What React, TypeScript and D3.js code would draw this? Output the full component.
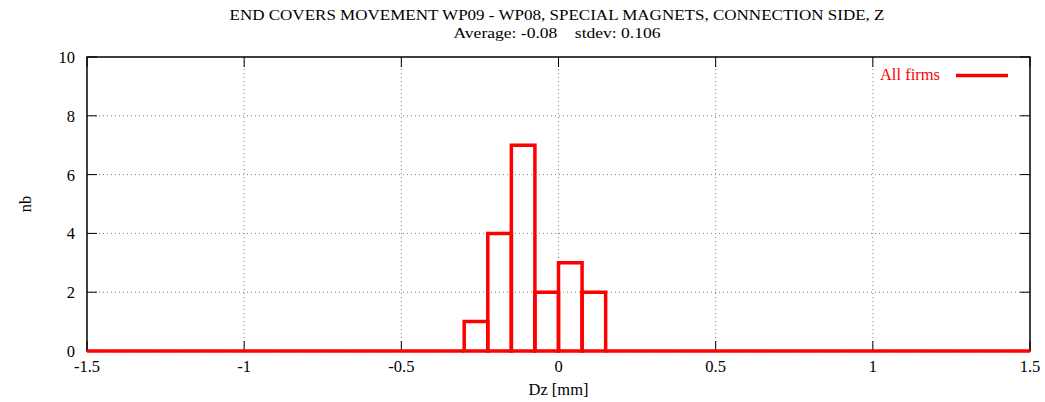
import React from "react";
import * as d3 from "d3";

const titleLines = [
  "END COVERS MOVEMENT WP09 - WP08, SPECIAL MAGNETS, CONNECTION SIDE, Z",
  "Average: -0.08    stdev: 0.106",
];
const xTicks = [-1.5, -1, -0.5, 0, 0.5, 1, 1.5];
const xTickLabels = ["-1.5", "-1", "-0.5", "0", "0.5", "1", "1.5"];
const yTicks = [0, 2, 4, 6, 8, 10];
const binStart = -1.5;
const binWidth = 0.075;
// counts per bin, from -1.5 to 1.5 in 0.075 steps (40 bins)
const counts = [
  0, 0, 0, 0, 0, 0, 0, 0, 0, 0,
  0, 0, 0, 0, 0, 0, 1, 4, 7, 2,
  3, 2, 0, 0, 0, 0, 0, 0, 0, 0,
  0, 0, 0, 0, 0, 0, 0, 0, 0, 0,
];
const seriesName = "All firms";

export default function App() {
  const W = 1045, H = 402;
  const L = 87, R = 1030, T = 57, B = 351;
  const x = d3.scaleLinear().domain([-1.5, 1.5]).range([L, R]);
  const y = d3.scaleLinear().domain([0, 10]).range([B, T]);
  const font = "'Liberation Serif', 'Times New Roman', serif";
  const red = "#ff0000";
  const tick = 10;
  const fs = 16.5;

  return (
    <svg width={W} height={H} style={{ position: "absolute", left: 0, top: 0 }} fontFamily={font}>
      <rect x={0} y={0} width={W} height={H} fill="#fff" />
      {/* grid */}
      {xTicks.slice(1, -1).map((t) => (
        <line key={"gx" + t} x1={x(t)} x2={x(t)} y1={T} y2={B} stroke="#808080" strokeWidth={1} strokeDasharray="1,3" />
      ))}
      {yTicks.slice(1, -1).map((t) => (
        <line key={"gy" + t} x1={L} x2={R} y1={y(t)} y2={y(t)} stroke="#808080" strokeWidth={1} strokeDasharray="1,3" />
      ))}
      {/* ticks */}
      {xTicks.map((t) => (
        <g key={"tx" + t}>
          <line x1={x(t)} x2={x(t)} y1={B} y2={B - tick} stroke="#000" />
          <line x1={x(t)} x2={x(t)} y1={T} y2={T + tick} stroke="#000" />
        </g>
      ))}
      {yTicks.map((t) => (
        <g key={"ty" + t}>
          <line x1={L} x2={L + tick} y1={y(t)} y2={y(t)} stroke="#000" />
          <line x1={R} x2={R - tick} y1={y(t)} y2={y(t)} stroke="#000" />
        </g>
      ))}
      {/* frame */}
      <rect x={L} y={T} width={R - L} height={B - T} fill="none" stroke="#000" strokeWidth={1.5} />
      {/* bars */}
      {counts.map((c, i) => {
        const x0 = x(binStart + i * binWidth);
        const x1 = x(binStart + (i + 1) * binWidth);
        const p = d3.path();
        p.moveTo(x0, y(0));
        p.lineTo(x0, y(c));
        p.lineTo(x1, y(c));
        p.lineTo(x1, y(0));
        p.closePath();
        return (
          <path key={"b" + i} d={p.toString()} fill="none" stroke={red} strokeWidth={3.5} strokeLinejoin="miter" />
        );
      })}
      {/* tick labels */}
      {xTicks.map((t, i) => (
        <text key={"lx" + t} x={x(t)} y={B + 21} textAnchor="middle" fontSize={fs}>{xTickLabels[i]}</text>
      ))}
      {yTicks.map((t) => (
        <text key={"ly" + t} x={L - 12} y={y(t) + 6} textAnchor="end" fontSize={fs}>{t}</text>
      ))}
      {/* axis labels */}
      <text x={(L + R) / 2} y={395} textAnchor="middle" fontSize={fs}>Dz [mm]</text>
      <text transform={`translate(31, ${(T + B) / 2}) rotate(-90)`} textAnchor="middle" fontSize={fs}>nb</text>
      {/* title */}
      <text x={557} y={20} textAnchor="middle" fontSize={15.5} textLength={655} lengthAdjust="spacingAndGlyphs">{titleLines[0]}</text>
      <text x={557} y={38} textAnchor="middle" fontSize={15.5} textLength={207} lengthAdjust="spacingAndGlyphs" style={{ whiteSpace: "pre" }}>{titleLines[1]}</text>
      {/* legend */}
      <text x={940} y={80} textAnchor="end" fontSize={fs} fill={red}>{seriesName}</text>
      <line x1={956} x2={1008} y1={75.5} y2={75.5} stroke={red} strokeWidth={3.5} />
    </svg>
  );
}
